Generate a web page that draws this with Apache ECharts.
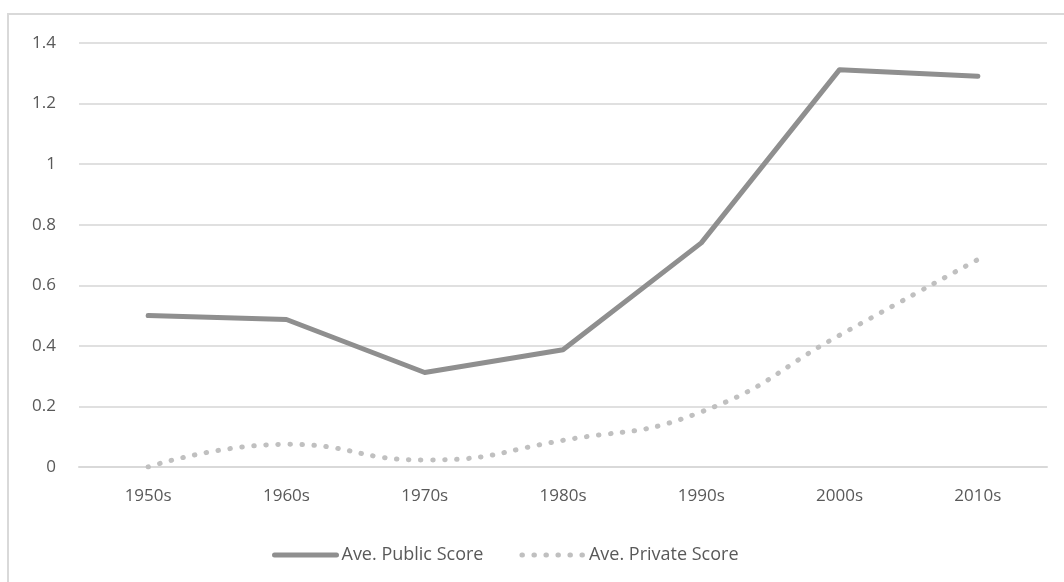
<!DOCTYPE html>
<html>
<head>
<meta charset="utf-8">
<script src="https://cdn.jsdelivr.net/npm/echarts@6/dist/echarts.min.js"></script>
<style>
  html, body { margin: 0; padding: 0; background: #ffffff; }
  #chart { width: 1064px; height: 582px; }
</style>
</head>
<body>
<div id="chart"></div>
<script>
// Decades along the horizontal axis
const decades = ['1950s', '1960s', '1970s', '1980s', '1990s', '2000s', '2010s'];
// Average scores per decade
const publicScore = [0.50, 0.487, 0.312, 0.387, 0.74, 1.312, 1.29];
const privateScore = [0.0, 0.075, 0.023, 0.088, 0.182, 0.435, 0.685];
// Value axis range and step
const yMin = 0;
const yMax = 1.4;
const yStep = 0.2;

const FONT = '"Open Sans", "Liberation Sans", sans-serif';
const TEXT = '#595959';
const PUBLIC_COLOR = '#8f8f8f';
const PRIVATE_COLOR = '#c0c0c0';

const publicLine = { color: PUBLIC_COLOR, width: 5, cap: 'round', join: 'round' };
const privateLine = { color: PRIVATE_COLOR, width: 5, type: [0.5, 11.5], cap: 'round' };

const chart = echarts.init(document.getElementById('chart'), null, { renderer: 'canvas' });

chart.setOption({
  backgroundColor: '#ffffff',
  animation: false,
  graphic: [{
    type: 'rect',
    shape: { x: 8, y: 14, width: 1100, height: 700 },
    style: { fill: 'none', stroke: '#d9d9d9', lineWidth: 2 },
    silent: true,
    z: -1
  }],
  grid: { left: 79, right: 17, top: 43, bottom: 115, containLabel: false },
  legend: {
    left: 267,
    top: 541,
    itemWidth: 62,
    itemHeight: 14,
    itemGap: 36,
    textStyle: { color: TEXT, fontSize: 18, fontFamily: FONT },
    data: [
      { name: 'Ave. Public Score', itemStyle: { opacity: 0 }, lineStyle: publicLine },
      { name: 'Ave. Private Score', itemStyle: { opacity: 0 }, lineStyle: privateLine }
    ]
  },
  xAxis: {
    type: 'category',
    data: decades,
    boundaryGap: true,
    axisLine: { show: true, lineStyle: { color: '#d9d9d9', width: 2 } },
    axisTick: { show: false },
    axisLabel: { color: TEXT, fontSize: 17, fontFamily: FONT, margin: 21 },
    splitLine: { show: false }
  },
  yAxis: {
    type: 'value',
    min: yMin,
    max: yMax,
    interval: yStep,
    axisLine: { show: false },
    axisTick: { show: false },
    axisLabel: {
      color: TEXT, fontSize: 17, fontFamily: FONT, margin: 23,
      formatter: v => String(Math.round(v * 10) / 10)
    },
    splitLine: { show: true, lineStyle: { color: '#e0e0e0', width: 2 } }
  },
  series: [
    {
      name: 'Ave. Public Score',
      type: 'line',
      data: publicScore,
      symbol: 'none',
      smooth: false,
      lineStyle: publicLine,
      itemStyle: { color: PUBLIC_COLOR },
      z: 3
    },
    {
      name: 'Ave. Private Score',
      type: 'line',
      data: privateScore,
      symbol: 'none',
      smooth: 0.5,
      lineStyle: privateLine,
      itemStyle: { color: PRIVATE_COLOR },
      z: 2
    }
  ]
});
</script>
</body>
</html>
